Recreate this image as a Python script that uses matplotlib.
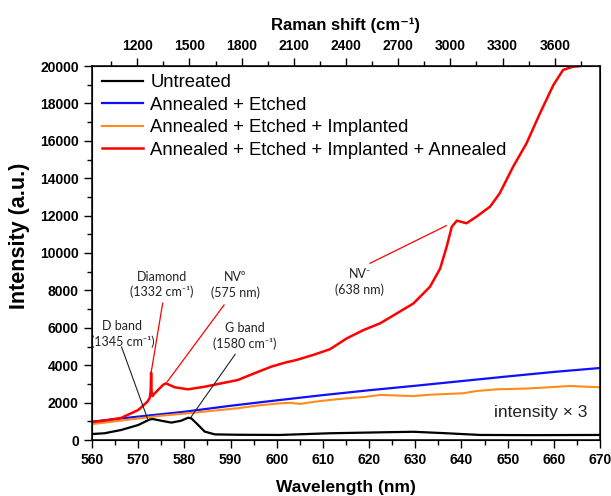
import matplotlib
matplotlib.use("Agg")
import matplotlib.pyplot as plt
from matplotlib.ticker import MultipleLocator

# ---------------- data ----------------
wl_untreated = [560, 562.7, 566.3, 570, 572.5, 573.2, 575, 577.2, 579.3, 580.8, 581.5,
                583, 584.4, 586.6, 591.6, 600.7, 611.5, 622.4, 629.6, 636.8, 644, 655, 670]
untreated = [320, 360, 535, 800, 1100, 1120, 1030, 930, 1030, 1190, 1160,
             800, 450, 300, 280, 270, 360, 410, 440, 360, 270, 260, 270]

wl_ae = [560, 570, 580, 590, 600, 610, 620, 630, 640, 650, 660, 670]
annealed_etched = [980, 1250, 1510, 1830, 2120, 2400, 2660, 2900, 3150, 3400, 3640, 3850]

wl_aei = [560, 565, 570, 575, 580.8, 586, 591.6, 596, 600.7, 603, 605, 608, 611.5, 615.2,
          619, 622.4, 626, 629.6, 633, 636.8, 640.4, 643.3, 647.6, 651, 654.8, 659,
          663.5, 667, 670]
annealed_etched_impl = [850, 1000, 1150, 1300, 1430, 1560, 1700, 1850, 1960, 1990, 1930,
                        2040, 2140, 2230, 2300, 2410, 2380, 2350, 2420, 2460, 2500, 2620,
                        2710, 2730, 2760, 2820, 2890, 2850, 2820]

wl_aeia = [560, 563, 566.3, 570, 572, 572.5, 572.7, 572.8, 572.9, 573.1, 573.6, 575.4,
           576, 577.9, 580.8, 584.4, 588, 591.6, 595.2, 598.8, 602, 604.3, 607.9, 611.5,
           615.2, 618.8, 622.4, 626, 629.6, 633.2, 635.4, 636.8, 637.9, 639, 641.1,
           643.3, 646.2, 648.3, 651.2, 654.1, 657, 659.9, 662, 664, 665.7]
annealed_etched_impl_annealed = [960, 1050, 1180, 1600, 2050, 2250, 2600, 3600, 2600, 2350,
                                 2500, 2950, 3030, 2820, 2710, 2850, 3030, 3210, 3570, 3920,
                                 4150, 4280, 4550, 4850, 5440, 5880, 6240, 6770, 7300, 8200,
                                 9180, 10340, 11400, 11730, 11590, 11950, 12480, 13200, 14620,
                                 15870, 17470, 18980, 19790, 19950, 20000]

labels = ["Untreated", "Annealed + Etched", "Annealed + Etched + Implanted",
          "Annealed + Etched + Implanted + Annealed"]
colors = ["black", "#1010ff", "#ff8c1a", "#ff0000"]

raman_ticks = [1200, 1500, 1800, 2100, 2400, 2700, 3000, 3300, 3600]

# ---------------- figure ----------------
plt.rcParams['font.family'] = ['Liberation Sans', 'DejaVu Sans']
fig = plt.figure(figsize=(6.11, 4.96), dpi=100)
ax = fig.add_axes([92/611, 56/496, 508/611, 374/496])

ax.plot(wl_untreated, untreated, color=colors[0], lw=1.6, label=labels[0])
ax.plot(wl_ae, annealed_etched, color=colors[1], lw=1.6, label=labels[1])
ax.plot(wl_aei, annealed_etched_impl, color=colors[2], lw=1.5, label=labels[2])
ax.plot(wl_aeia, annealed_etched_impl_annealed, color=colors[3], lw=1.8, label=labels[3])

ax.set_xlim(560, 670)
ax.set_ylim(0, 20000)
ax.xaxis.set_major_locator(MultipleLocator(10))
ax.xaxis.set_minor_locator(MultipleLocator(5))
ax.yaxis.set_major_locator(MultipleLocator(2000))
ax.yaxis.set_minor_locator(MultipleLocator(1000))
ax.tick_params(axis='both', which='major', direction='out', length=6, width=1, labelsize=10)
ax.tick_params(axis='both', which='minor', direction='out', length=3.5, width=1)
ax.tick_params(top=False, right=False)
for lab in ax.get_xticklabels() + ax.get_yticklabels():
    lab.set_fontweight('bold')
for sp in ax.spines.values():
    sp.set_linewidth(1.1)

ax.set_xlabel("Wavelength (nm)", fontsize=12.5, fontweight='bold', labelpad=9)
ax.set_ylabel("Intensity (a.u.)", fontsize=15.5, fontweight='bold')
ax.yaxis.set_label_coords(-0.122, 0.545)

# top axis: Raman shift
ax2 = ax.twiny()
ax2.set_xlim(940, 3860)
ax2.set_xticks(raman_ticks)
ax2.xaxis.set_minor_locator(MultipleLocator(150))
ax2.tick_params(axis='x', which='major', direction='out', length=6, width=1, labelsize=10, pad=3)
ax2.tick_params(axis='x', which='minor', direction='out', length=3.5, width=1)
for lab in ax2.get_xticklabels():
    lab.set_fontweight('bold')
ax2.set_xlabel("Raman shift (cm\u207b\u00b9)", fontsize=12, fontweight='bold', labelpad=7)

leg = ax.legend(loc='upper left', frameon=False, fontsize=13.3, handlelength=2.2,
                handletextpad=0.4, labelspacing=0.3, borderaxespad=0.15,
                bbox_to_anchor=(0.0, 1.005))

# annotations
acol = '#222222'
afont = dict(family=['Lato', 'DejaVu Sans'], fontsize=9, ha='center', va='center',
             linespacing=1.3, color=acol)
ax.text(566.6, 5650, "D band\n(1345 cm\u207b\u00b9)", **afont)
ax.plot([566.4, 572.0], [4974, 1160], color=acol, lw=0.8)
ax.text(575.1, 8320, "Diamond\n(1332 cm\u207b\u00b9)", **afont)
ax.plot([575.3, 572.8], [7311, 3600], color='red', lw=0.9)
ax.text(591.0, 8300, "NV\u2070\n(575 nm)", **afont)
ax.plot([588.6, 576.3], [7220, 3118], color='red', lw=0.9)
ax.text(593.1, 5570, "G band\n(1580 cm\u207b\u00b9)", **afont)
ax.plot([591.0, 581.4], [4583, 1214], color=acol, lw=0.8)
ax.text(618.0, 8440, "NV\u207b\n(638 nm)", **afont)
ax.plot([620.2, 636.7], [9450, 11461], color='red', lw=0.9)

ax.text(667.2, 1450, "intensity \u00d7 3", fontsize=12.5, ha='right', va='center', color='#222222')

fig.savefig("out.png", dpi=100)
